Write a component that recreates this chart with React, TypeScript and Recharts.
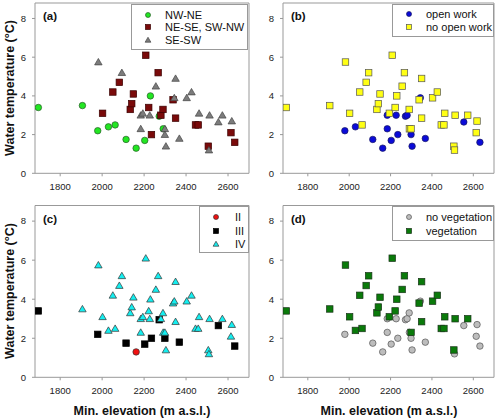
import React from "react";
import { ScatterChart, Scatter, XAxis, YAxis, ReferenceArea } from "recharts";

// one row per spring: min. elevation (m a.s.l.) and water temperature (°C)
const elevation = [
  1696, 1906, 1979, 1982, 2002, 2030, 2051, 2062, 2082, 2094,
  2114, 2134, 2141, 2149, 2162, 2184, 2184, 2194, 2203, 2208,
  2222, 2227, 2230, 2235, 2256, 2267, 2272, 2280, 2290, 2291,
  2299, 2299, 2304, 2338, 2344, 2350, 2350, 2368, 2403, 2426,
  2445, 2458, 2462, 2506, 2509, 2512, 2554, 2573, 2618, 2614, 2632,
];
const temperature = [
  3.4, 3.5, 2.2, 5.75, 3.1, 2.4, 4.2, 2.5, 4.7, 5.2,
  1.75, 3.3, 3.6, 4.1, 1.3, 3.0, 2.3, 3.1, 1.7, 6.1,
  3.4, 3.0, 4.0, 2.0, 4.5, 5.2, 2.95, 3.0, 3.3, 2.3,
  2.3, 2.0, 1.4, 3.8, 3.9, 4.9, 2.85, 1.8, 3.9, 4.2,
  2.5, 2.5, 3.1, 1.4, 1.2, 3.0, 2.65, 3.0, 2.7, 2.1, 1.6,
];
// exposition: N = NW-NE, E = NE-SE, SW-NW, S = SE-SW
const aspect = [
  "N", "N", "N", "S", "E", "N", "E", "N", "E", "S",
  "N", "E", "E", "E", "N", "S", "S", "S", "N", "E",
  "E", "S", "N", "E", "S", "E", "N", "E", "E", "N",
  "S", "S", "S", "E", "S", "S", "E", "S", "S", "S",
  "E", "E", "S", "E", "S", "S", "S", "S", "S", "E", "E",
];
const openWork = [
  0, 0, 1, 0, 0, 1, 0, 0, 0, 0,
  1, 0, 0, 0, 1, 1, 1, 0, 1, 0,
  0, 1, 0, 1, 0, 0, 1, 1, 0, 0,
  0, 1, 1, 0, 1, 0, 0, 1, 0, 0,
  0, 0, 0, 0, 0, 0, 1, 0, 0, 0, 1,
];
const rockClass = [
  "III", "IV", "III", "IV", "IV", "IV", "IV", "IV", "IV", "IV",
  "III", "IV", "IV", "IV", "II", "IV", "IV", "IV", "III", "IV",
  "IV", "IV", "IV", "III", "IV", "IV", "III", "IV", "IV", "IV",
  "IV", "III", "IV", "IV", "IV", "IV", "IV", "III", "IV", "IV",
  "IV", "IV", "IV", "IV", "IV", "IV", "III", "IV", "IV", "IV", "III",
];
const vegetation = [
  1, 1, 0, 1, 1, 1, 1, 1, 1, 1,
  0, 1, 1, 1, 0, 0, 0, 1, 0, 1,
  1, 0, 1, 0, 1, 1, 0, 0, 0, 0,
  1, 0, 0, 1, 0, 1, 1, 0, 1, 1,
  1, 1, 1, 1, 0, 1, 0, 1, 0, 0, 0,
];

const xTicks = [1800, 2000, 2200, 2400, 2600];
const yTicks = [0, 2, 4, 6, 8];
const X_DOMAIN = [1680, 2700];
const Y_DOMAIN = [0, 8.8];

const FONT = "'Liberation Sans', Arial, sans-serif";

const points = elevation.map((e, i) => ({ x: e, y: temperature[i], i }));

type Kind = "circle" | "square" | "triangle";

function Marker({ kind, cx, cy, size, fill, stroke }: any) {
  const r = size / 2;
  if (kind === "circle")
    return <circle cx={cx} cy={cy} r={r} fill={fill} stroke={stroke} strokeWidth={0.7} />;
  if (kind === "square")
    return <rect x={cx - r} y={cy - r} width={size} height={size} fill={fill} stroke={stroke} strokeWidth={0.7} />;
  const h = r * 1.1;
  return (
    <polygon
      points={`${cx},${cy - h} ${cx + r * 1.15},${cy + h * 0.8} ${cx - r * 1.15},${cy + h * 0.8}`}
      fill={fill}
      stroke={stroke}
      strokeWidth={0.7}
    />
  );
}

type Series = { name: string; kind: Kind; fill: string; stroke: string; keep: (i: number) => boolean };

const panels = [
  {
    letter: "(a)", divLeft: 0, divTop: 0, plot: [35, 3, 249, 173.3],
    legend: { box: [131, 4, 117, 46], mx: 148, tx: 165, rows: [14.7, 27.3, 40] },
    series: [
      { name: "NW-NE", kind: "circle", fill: "#22e622", stroke: "#2a5a2a", keep: (i: number) => aspect[i] === "N" },
      { name: "NE-SE, SW-NW", kind: "square", fill: "#7a0a0a", stroke: "#3a0000", keep: (i: number) => aspect[i] === "E" },
      { name: "SE-SW", kind: "triangle", fill: "#7c7c7c", stroke: "#444", keep: (i: number) => aspect[i] === "S" },
    ] as Series[],
  },
  {
    letter: "(b)", divLeft: 248, divTop: 0, plot: [283, 3, 494, 173.3],
    legend: { box: [391.7, 4, 102.3, 32.7], mx: 408.5, tx: 426, rows: [14.3, 27] },
    series: [
      { name: "open work", kind: "circle", fill: "#0b0bd8", stroke: "#1a1a60", keep: (i: number) => openWork[i] === 1 },
      { name: "no open work", kind: "square", fill: "#ffff14", stroke: "#555", keep: (i: number) => openWork[i] === 0 },
    ] as Series[],
  },
  {
    letter: "(c)", divLeft: 0, divTop: 202, plot: [35, 205.5, 249, 377.3],
    legend: { box: [199, 205.5, 50, 47.5], mx: 216, tx: 235, rows: [216.5, 230.5, 243.7] },
    series: [
      { name: "II", kind: "circle", fill: "#f01010", stroke: "#333", keep: (i: number) => rockClass[i] === "II" },
      { name: "III", kind: "square", fill: "#000", stroke: "#000", keep: (i: number) => rockClass[i] === "III" },
      { name: "IV", kind: "triangle", fill: "#14eef0", stroke: "#333", keep: (i: number) => rockClass[i] === "IV" },
    ] as Series[],
  },
  {
    letter: "(d)", divLeft: 248, divTop: 202, plot: [283, 205.5, 494, 377.3],
    legend: { box: [391.7, 205.5, 102.3, 35.2], mx: 408.5, tx: 426, rows: [217.3, 230.7] },
    series: [
      { name: "no vegetation", kind: "circle", fill: "#bdbdbd", stroke: "#555", keep: (i: number) => vegetation[i] === 0 },
      { name: "vegetation", kind: "square", fill: "#0a7a0a", stroke: "#1a331a", keep: (i: number) => vegetation[i] === 1 },
    ] as Series[],
  },
];

const CHART_W = 252;
const CHART_H = 200;
const Y_AXIS_W = 30;
const X_AXIS_H = 24;

function Panel({ p }: any) {
  const [pl, pt, pr, pb] = p.plot;
  const margin = {
    left: pl - p.divLeft - Y_AXIS_W,
    top: pt - p.divTop,
    right: p.divLeft + CHART_W - pr,
    bottom: p.divTop + CHART_H - pb - X_AXIS_H,
  };
  const lg = p.legend;
  return (
    <>
      <div style={{ position: "absolute", left: p.divLeft, top: p.divTop }}>
        <ScatterChart width={CHART_W} height={CHART_H} margin={margin}>
          <XAxis
            dataKey="x"
            type="number"
            domain={X_DOMAIN}
            ticks={xTicks}
            allowDataOverflow
            axisLine={false}
            tickSize={3}
            tickMargin={7}
            height={X_AXIS_H}
            tickLine={{ stroke: "#999" }}
            tick={{ fontSize: 9.5, fill: "#222", fontFamily: FONT }}
          />
          <YAxis
            dataKey="y"
            type="number"
            domain={Y_DOMAIN}
            ticks={yTicks}
            allowDataOverflow
            axisLine={false}
            tickSize={3}
            tickMargin={6}
            width={Y_AXIS_W}
            tickLine={{ stroke: "#999" }}
            tick={{ fontSize: 9.5, fill: "#222", fontFamily: FONT }}
          />
          <ReferenceArea
            x1={X_DOMAIN[0]}
            x2={X_DOMAIN[1]}
            y1={Y_DOMAIN[0]}
            y2={Y_DOMAIN[1]}
            fill="none"
            stroke="#999"
            ifOverflow="visible"
          />
          {p.series.map((s: Series) => (
            <Scatter
              key={s.name}
              data={points.filter((d) => s.keep(d.i))}
              isAnimationActive={false}
              shape={(sp: any) => (
                <Marker kind={s.kind} cx={sp.cx} cy={sp.cy} size={6.5} fill={s.fill} stroke={s.stroke} />
              )}
            />
          ))}
        </ScatterChart>
      </div>
      <div
        style={{
          position: "absolute",
          left: pl + 8,
          top: pt + 6,
          fontFamily: FONT,
          fontWeight: "bold",
          fontSize: 11.5,
          lineHeight: "14px",
          color: "#111",
        }}
      >
        {p.letter}
      </div>
      <div
        style={{
          position: "absolute",
          left: lg.box[0],
          top: lg.box[1],
          width: lg.box[2],
          height: lg.box[3],
          border: "1px solid #999",
          boxSizing: "border-box",
          background: "#fff",
        }}
      />
      {p.series.map((s: Series, k: number) => (
        <React.Fragment key={s.name}>
          <svg
            style={{ position: "absolute", left: lg.mx - 4, top: lg.rows[k] - 4 }}
            width={8}
            height={8}
          >
            <Marker kind={s.kind} cx={4} cy={4} size={5} fill={s.fill} stroke={s.stroke} />
          </svg>
          <div
            style={{
              position: "absolute",
              left: lg.tx,
              top: lg.rows[k] - 7,
              height: 14,
              lineHeight: "14px",
              fontFamily: FONT,
              fontSize: 11,
              color: "#111",
              whiteSpace: "nowrap",
            }}
          >
            {s.name}
          </div>
        </React.Fragment>
      ))}
    </>
  );
}

const yTitle = "Water temperature (°C)";
const xTitle = "Min. elevation (m a.s.l.)";

export default function App() {
  const titleStyle: React.CSSProperties = {
    position: "absolute",
    fontFamily: FONT,
    fontWeight: "bold",
    fontSize: 12.5,
    color: "#111",
    whiteSpace: "nowrap",
    lineHeight: "14px",
  };
  return (
    <div style={{ position: "absolute", left: 0, top: 0, width: 500, height: 418, background: "#fff", overflow: "hidden" }}>
      {panels.map((p) => (
        <Panel key={p.letter} p={p} />
      ))}
      <div style={{ ...titleStyle, left: 10, top: 88, transform: "translate(-50%, -50%) rotate(-90deg)" }}>{yTitle}</div>
      <div style={{ ...titleStyle, left: 10, top: 291, transform: "translate(-50%, -50%) rotate(-90deg)" }}>{yTitle}</div>
      <div style={{ ...titleStyle, left: 142, top: 411, transform: "translate(-50%, -50%)" }}>{xTitle}</div>
      <div style={{ ...titleStyle, left: 389, top: 411, transform: "translate(-50%, -50%)" }}>{xTitle}</div>
    </div>
  );
}
